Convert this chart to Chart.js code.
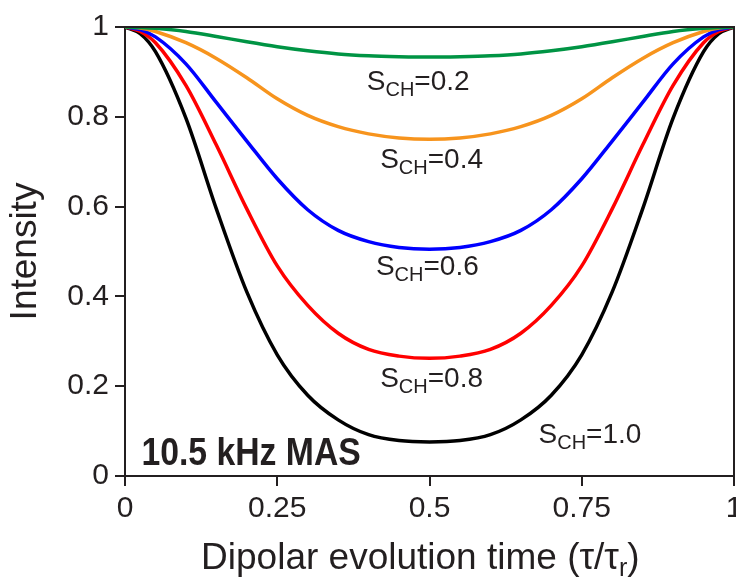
<!DOCTYPE html>
<html>
<head>
<meta charset="utf-8">
<script src="https://cdn.jsdelivr.net/npm/chart.js@4/dist/chart.umd.min.js"></script>
<style>
  html,body{margin:0;padding:0;background:#fff;}
  #wrap{width:736px;height:579px;}
</style>
</head>
<body>
<div id="wrap"><canvas id="chart" width="736" height="579"></canvas></div>
<script>
// ===================== Daten =====================
const tau = [0, 0.025, 0.05, 0.1, 0.15, 0.2, 0.25, 0.3, 0.35, 0.4, 0.45, 0.5,
             0.55, 0.6, 0.65, 0.7, 0.75, 0.8, 0.85, 0.9, 0.95, 0.975, 1];

const s02 = [1, 0.999, 0.997, 0.99, 0.979, 0.967, 0.956, 0.947, 0.94, 0.936, 0.934, 0.933,
             0.934, 0.936, 0.94, 0.947, 0.956, 0.967, 0.979, 0.99, 0.997, 0.999, 1];
const s04 = [1, 0.998, 0.99, 0.965, 0.93, 0.887, 0.84, 0.803, 0.778, 0.762, 0.753, 0.75,
             0.753, 0.762, 0.778, 0.803, 0.84, 0.887, 0.93, 0.965, 0.99, 0.998, 1];
const s06 = [1, 0.994, 0.978, 0.918, 0.832, 0.746, 0.662, 0.593, 0.547, 0.522, 0.509, 0.505,
             0.509, 0.522, 0.547, 0.593, 0.662, 0.746, 0.832, 0.918, 0.978, 0.994, 1];
const s08 = [1, 0.99, 0.965, 0.87, 0.737, 0.595, 0.468, 0.38, 0.318, 0.282, 0.267, 0.262,
             0.267, 0.282, 0.318, 0.38, 0.468, 0.595, 0.737, 0.87, 0.965, 0.99, 1];
const s10 = [1, 0.985, 0.945, 0.797, 0.595, 0.41, 0.27, 0.18, 0.125, 0.092, 0.079, 0.076,
             0.079, 0.092, 0.125, 0.18, 0.27, 0.41, 0.595, 0.797, 0.945, 0.985, 1];

const seriesNames = ["0.2", "0.4", "0.6", "0.8", "1.0"];
const xTicks = [0, 0.25, 0.5, 0.75, 1];
const yTicks = [0, 0.2, 0.4, 0.6, 0.8, 1];

const INK = "#231f20";
const FONT = '"Liberation Sans", Arial, Helvetica, sans-serif';

// ===================== Beschriftungen =====================
// linke Kante / Grundlinie in Datenkoordinaten
const curveLabels = [
  {name: "0.2", x: 0.397, y: 0.860},
  {name: "0.4", x: 0.419, y: 0.685},
  {name: "0.6", x: 0.412, y: 0.448},
  {name: "0.8", x: 0.419, y: 0.199},
  {name: "1.0", x: 0.679, y: 0.073}
];

const labelPlugin = {
  id: "labels",
  afterDatasetsDraw(chart){
    const {ctx, chartArea, scales:{x, y}} = chart;
    ctx.save();
    // Rahmen oben/rechts
    ctx.strokeStyle = INK;
    ctx.lineWidth = 2;
    ctx.beginPath();
    ctx.moveTo(chartArea.left, chartArea.top);
    ctx.lineTo(chartArea.right, chartArea.top);
    ctx.lineTo(chartArea.right, chartArea.bottom);
    ctx.stroke();

    ctx.fillStyle = INK;
    ctx.textBaseline = "alphabetic";
    ctx.textAlign = "left";
    curveLabels.forEach(l=>{
      let px = x.getPixelForValue(l.x);
      const py = y.getPixelForValue(l.y);
      ctx.font = `28px ${FONT}`;
      ctx.fillText("S", px, py);
      px += ctx.measureText("S").width;
      ctx.font = `20px ${FONT}`;
      ctx.fillText("CH", px, py + 6);
      px += ctx.measureText("CH").width;
      ctx.font = `28px ${FONT}`;
      ctx.fillText("=" + l.name, px, py);
    });

    // MAS Beschriftung (schmale Fettschrift)
    ctx.save();
    ctx.translate(x.getPixelForValue(0.027), y.getPixelForValue(0.0245));
    ctx.scale(0.865, 1);
    ctx.font = `bold 39px ${FONT}`;
    ctx.fillText("10.5 kHz MAS", 0, 0);
    ctx.restore();

    // x-Achsentitel mit Index
    const main = "Dipolar evolution time (\u03C4/\u03C4";
    ctx.font = `37px ${FONT}`;
    const w1 = ctx.measureText(main).width;
    ctx.font = `25px ${FONT}`;
    const w2 = ctx.measureText("r").width;
    ctx.font = `37px ${FONT}`;
    const w3 = ctx.measureText(")").width;
    let tx = x.getPixelForValue(0.485) - (w1+w2+w3)/2;
    const ty = 569;
    ctx.fillText(main, tx, ty);
    tx += w1;
    ctx.font = `25px ${FONT}`;
    ctx.fillText("r", tx, ty + 7);
    tx += w2;
    ctx.font = `37px ${FONT}`;
    ctx.fillText(")", tx, ty);
    ctx.restore();
  }
};

// ===================== Chart =====================
const colors = ["#009444", "#f7941d", "#0000ff", "#ff0000", "#000000"];
const values = [s02, s04, s06, s08, s10];

const datasets = values.map((v,i)=>({
  label: "SCH=" + seriesNames[i],
  data: tau.map((t,k)=>({x:t, y:v[k]})),
  borderColor: colors[i],
  borderWidth: 3.5,
  pointRadius: 0,
  fill: false,
  cubicInterpolationMode: "monotone"
}));

new Chart(document.getElementById("chart"), {
  type: "line",
  data: {datasets},
  options: {
    responsive: false,
    animation: false,
    devicePixelRatio: 1,
    layout: {padding: {top: 27, right: 2, left: 0, bottom: 0}},
    plugins: {legend: {display: false}, tooltip: {enabled: false}},
    scales: {
      x: {
        type: "linear", min: 0, max: 1,
        afterBuildTicks: s => { s.ticks = xTicks.map(v=>({value:v})); },
        afterFit: s => { s.height = 103; s.paddingLeft = 0; s.paddingRight = 0; },
        border: {display: true, color: INK, width: 2},
        grid: {drawOnChartArea: false, drawTicks: true, tickLength: 10, color: INK, lineWidth: 2},
        ticks: {color: INK, padding: 5, maxRotation: 0, font: {family: FONT, size: 30},
                callback: v => String(v)}
      },
      y: {
        type: "linear", min: 0, max: 1,
        afterBuildTicks: s => { s.ticks = yTicks.map(v=>({value:v})); },
        afterFit: s => { s.width = 125; s.paddingTop = 0; s.paddingBottom = 0; },
        border: {display: true, color: INK, width: 2},
        grid: {drawOnChartArea: false, drawTicks: true, tickLength: 10, color: INK, lineWidth: 2},
        ticks: {color: INK, padding: 6, font: {family: FONT, size: 30},
                callback: v => (v===0||v===1) ? String(v) : v.toFixed(1)},
        title: {display: true, text: "Intensity", color: INK, padding: {top: 4, bottom: 0},
                font: {family: FONT, size: 37}}
      }
    }
  },
  plugins: [labelPlugin]
});
</script>
</body>
</html>
